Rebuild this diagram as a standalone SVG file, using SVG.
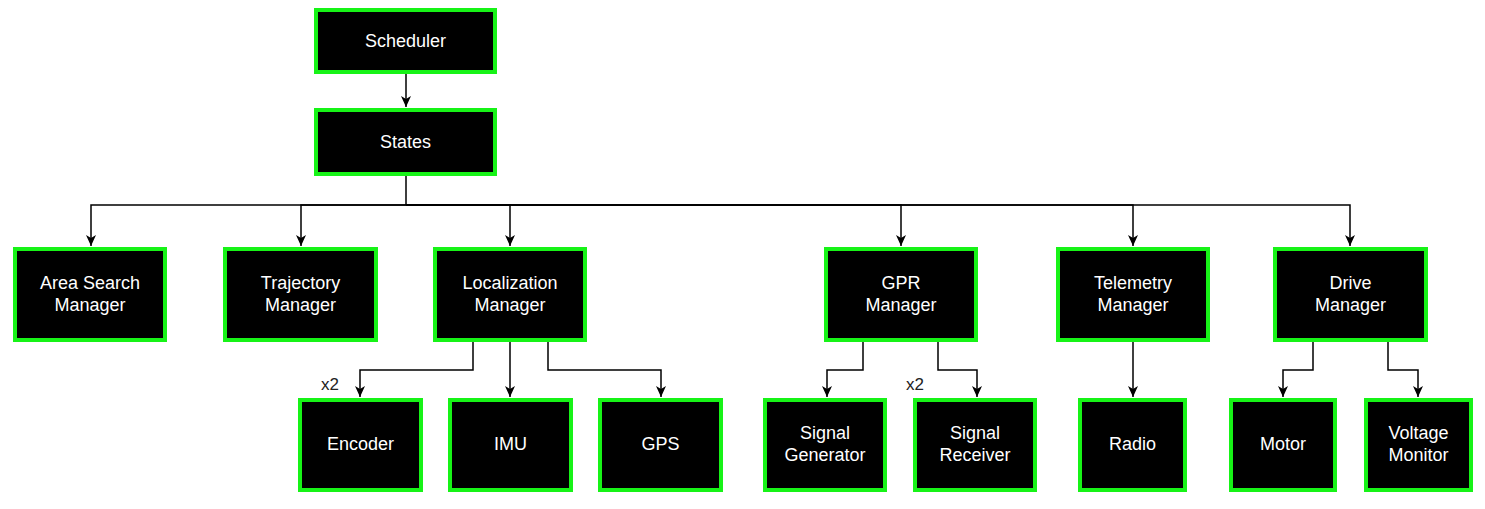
<svg xmlns="http://www.w3.org/2000/svg" width="1485" height="509" viewBox="0 0 1485 509">
<style>
.box{fill:#000;stroke:#17f317;stroke-width:4}
.lbl{font-family:"Liberation Sans",Arial,sans-serif;font-size:18px;fill:#fff;text-anchor:middle}
.note{font-family:"Liberation Sans",Arial,sans-serif;font-size:17px;fill:#222;text-anchor:middle}
.edge{fill:none;stroke:#000;stroke-width:1.5}
</style>
<defs>
<marker id="arr" markerUnits="userSpaceOnUse" markerWidth="12" markerHeight="12" viewBox="0 0 12 12" refX="11" refY="6" orient="auto">
<path d="M0,1 L11,6 L0,11 L3,6 z" fill="#000"/>
</marker>
</defs>
<rect width="1485" height="509" fill="#fff"/>
<g id="connectors">
<path class="edge" d="M406,74 V107" marker-end="url(#arr)"/>
<path class="edge" d="M406,176 V205 H91 V246" marker-end="url(#arr)"/>
<path class="edge" d="M406,205 H301 V246" marker-end="url(#arr)"/>
<path class="edge" d="M406,205 H510 V246" marker-end="url(#arr)"/>
<path class="edge" d="M406,205 H901 V246" marker-end="url(#arr)"/>
<path class="edge" d="M406,205 H1133 V246" marker-end="url(#arr)"/>
<path class="edge" d="M406,205 H1350 V246" marker-end="url(#arr)"/>
<path class="edge" d="M473,342 V370 H360 V397" marker-end="url(#arr)"/>
<path class="edge" d="M510,342 V397" marker-end="url(#arr)"/>
<path class="edge" d="M548,342 V370 H661 V397" marker-end="url(#arr)"/>
<path class="edge" d="M863,342 V370 H827 V397" marker-end="url(#arr)"/>
<path class="edge" d="M938,342 V370 H977 V397" marker-end="url(#arr)"/>
<path class="edge" d="M1133,342 V397" marker-end="url(#arr)"/>
<path class="edge" d="M1313,342 V370 H1283 V397" marker-end="url(#arr)"/>
<path class="edge" d="M1388,342 V370 H1418 V397" marker-end="url(#arr)"/>
</g>
<g id="scheduler"><rect class="box" x="316" y="10" width="179" height="62"/><text class="lbl" x="405.5" y="47">Scheduler</text></g>
<g id="states"><rect class="box" x="316" y="110" width="179" height="64"/><text class="lbl" x="405.5" y="148">States</text></g>
<g id="area-search"><rect class="box" x="15" y="249" width="150" height="91"/><text class="lbl" x="90" y="289">Area Search</text><text class="lbl" x="90" y="311">Manager</text></g>
<g id="trajectory"><rect class="box" x="225" y="249" width="151" height="91"/><text class="lbl" x="300.5" y="289">Trajectory</text><text class="lbl" x="300.5" y="311">Manager</text></g>
<g id="localization"><rect class="box" x="435" y="249" width="150" height="91"/><text class="lbl" x="510" y="289">Localization</text><text class="lbl" x="510" y="311">Manager</text></g>
<g id="gpr"><rect class="box" x="826" y="249" width="150" height="91"/><text class="lbl" x="901" y="289">GPR</text><text class="lbl" x="901" y="311">Manager</text></g>
<g id="telemetry"><rect class="box" x="1058" y="249" width="150" height="91"/><text class="lbl" x="1133" y="289">Telemetry</text><text class="lbl" x="1133" y="311">Manager</text></g>
<g id="drive"><rect class="box" x="1275" y="249" width="151" height="91"/><text class="lbl" x="1350.5" y="289">Drive</text><text class="lbl" x="1350.5" y="311">Manager</text></g>
<g id="encoder"><rect class="box" x="300" y="400" width="121" height="90"/><text class="lbl" x="360.5" y="450">Encoder</text></g>
<g id="imu"><rect class="box" x="450" y="400" width="121" height="90"/><text class="lbl" x="510.5" y="450">IMU</text></g>
<g id="gps"><rect class="box" x="600" y="400" width="121" height="90"/><text class="lbl" x="660.5" y="450">GPS</text></g>
<g id="signal-generator"><rect class="box" x="765" y="400" width="120" height="90"/><text class="lbl" x="825" y="439">Signal</text><text class="lbl" x="825" y="461">Generator</text></g>
<g id="signal-receiver"><rect class="box" x="915" y="400" width="120" height="90"/><text class="lbl" x="975" y="439">Signal</text><text class="lbl" x="975" y="461">Receiver</text></g>
<g id="radio"><rect class="box" x="1080" y="400" width="105" height="90"/><text class="lbl" x="1132.5" y="450">Radio</text></g>
<g id="motor"><rect class="box" x="1231" y="400" width="104" height="90"/><text class="lbl" x="1283" y="450">Motor</text></g>
<g id="voltage-monitor"><rect class="box" x="1366" y="400" width="105" height="90"/><text class="lbl" x="1418.5" y="439">Voltage</text><text class="lbl" x="1418.5" y="461">Monitor</text></g>
<g id="labels"><text class="note" x="330" y="390">x2</text><text class="note" x="915" y="390">x2</text></g>
</svg>
